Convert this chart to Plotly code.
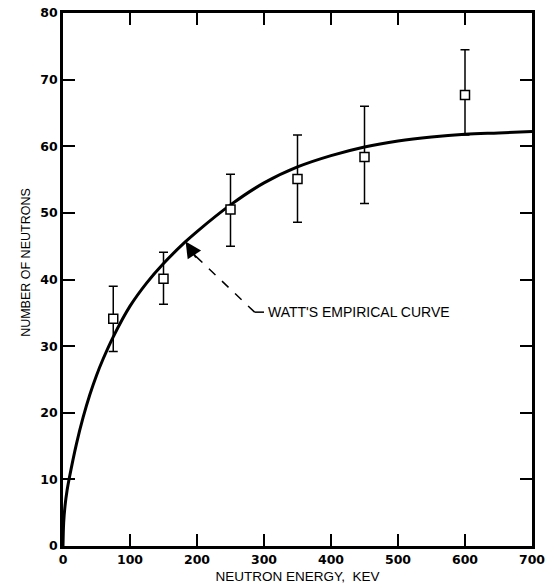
import plotly.graph_objects as go

# Measured points
energy = [75, 150, 250, 350, 450, 600]
counts = [34.1, 40.1, 50.5, 55.1, 58.4, 67.7]
err_hi = [39.0, 44.1, 55.8, 61.7, 66.0, 74.5]
err_lo = [29.2, 36.3, 45.0, 48.6, 51.4, 61.7]

# Watt's empirical curve
curve_x = [0, 1, 3, 6, 10, 20, 30, 40, 50, 60, 75, 100, 125, 150, 182, 200, 250, 300, 350, 400, 450, 500, 550, 600, 650, 700]
curve_y = [0, 3.5, 6.0, 8.3, 10.5, 15.3, 19.3, 22.7, 25.6, 28.1, 31.4, 36.0, 39.5, 42.4, 45.6, 47.2, 51.2, 54.5,
           56.9, 58.6, 59.9, 60.8, 61.4, 61.8, 62.0, 62.2]

x_ticks = [0, 100, 200, 300, 400, 500, 600, 700]
y_ticks = [0, 10, 20, 30, 40, 50, 60, 70, 80]

label_text = "WATT'S EMPIRICAL CURVE"
arrow_tip = (183, 45.7)
arrow_tail = (286, 35.1)

plus = [h - c for h, c in zip(err_hi, counts)]
minus = [c - l for c, l in zip(counts, err_lo)]

fig = go.Figure()
fig.add_trace(go.Scatter(x=curve_x, y=curve_y, mode="lines", line=dict(color="black", width=3, shape="spline"),
                         hoverinfo="skip"))
fig.add_trace(go.Scatter(x=energy, y=counts, mode="markers",
                         marker=dict(symbol="square", size=9, color="white", line=dict(color="black", width=1.5)),
                         error_y=dict(type="data", symmetric=False, array=plus, arrayminus=minus,
                                      color="black", thickness=1.5, width=4.5)))

# dashed leader line
fig.add_shape(type="line", x0=arrow_tail[0], y0=arrow_tail[1], x1=arrow_tip[0] + 14, y1=arrow_tip[1] - 2.1,
              line=dict(color="black", width=1.5, dash="dash"))
fig.add_shape(type="line", x0=arrow_tail[0], y0=arrow_tail[1], x1=arrow_tail[0] + 14, y1=arrow_tail[1],
              line=dict(color="black", width=1.5))
fig.add_annotation(x=arrow_tip[0], y=arrow_tip[1], ax=arrow_tip[0] + 17, ay=arrow_tip[1] - 2.6,
                   axref="x", ayref="y", text="", showarrow=True, arrowhead=2, arrowsize=1.6,
                   arrowwidth=2, arrowcolor="black")
fig.add_annotation(x=arrow_tail[0] + 17, y=arrow_tail[1], text=label_text, showarrow=False,
                   xanchor="left", yanchor="middle", font=dict(family="Liberation Sans, Arial", size=14, color="black"))

# y-axis title as rotated text
fig.add_annotation(xref="paper", yref="paper", x=-0.079, y=0.533, text="NUMBER OF NEUTRONS", textangle=-90,
                   showarrow=False, xanchor="center", yanchor="middle",
                   font=dict(family="Liberation Sans, Arial", size=12.5, color="black"))

axis_common = dict(showline=True, linecolor="black", linewidth=2.5, mirror="ticks", ticks="inside",
                   ticklen=12, tickwidth=2, tickcolor="black", showgrid=False, zeroline=False, automargin=False,
                   ticklabeloverflow="allow",
                   tickfont=dict(family="DejaVu Sans", size=12.5, color="black", weight="bold"))
fig.update_xaxes(range=[0, 700], tickvals=x_ticks, ticktext=[str(v) for v in x_ticks],
                 title=dict(text="NEUTRON ENERGY,  KEV", font=dict(family="Liberation Sans, Arial", size=13.5, color="black"), standoff=6),
                 **axis_common)
fig.update_yaxes(range=[0, 80], tickvals=y_ticks, ticktext=[str(v) for v in y_ticks], **axis_common)
fig.update_layout(width=547, height=588, margin=dict(l=63, r=15, t=13, b=42),
                  paper_bgcolor="white", plot_bgcolor="white", showlegend=False)
# remove the default page margin so the figure sits at the window's top-left corner
fig.write_html("out.html", config={"displayModeBar": False},
               post_script="document.body.style.margin='0';")
